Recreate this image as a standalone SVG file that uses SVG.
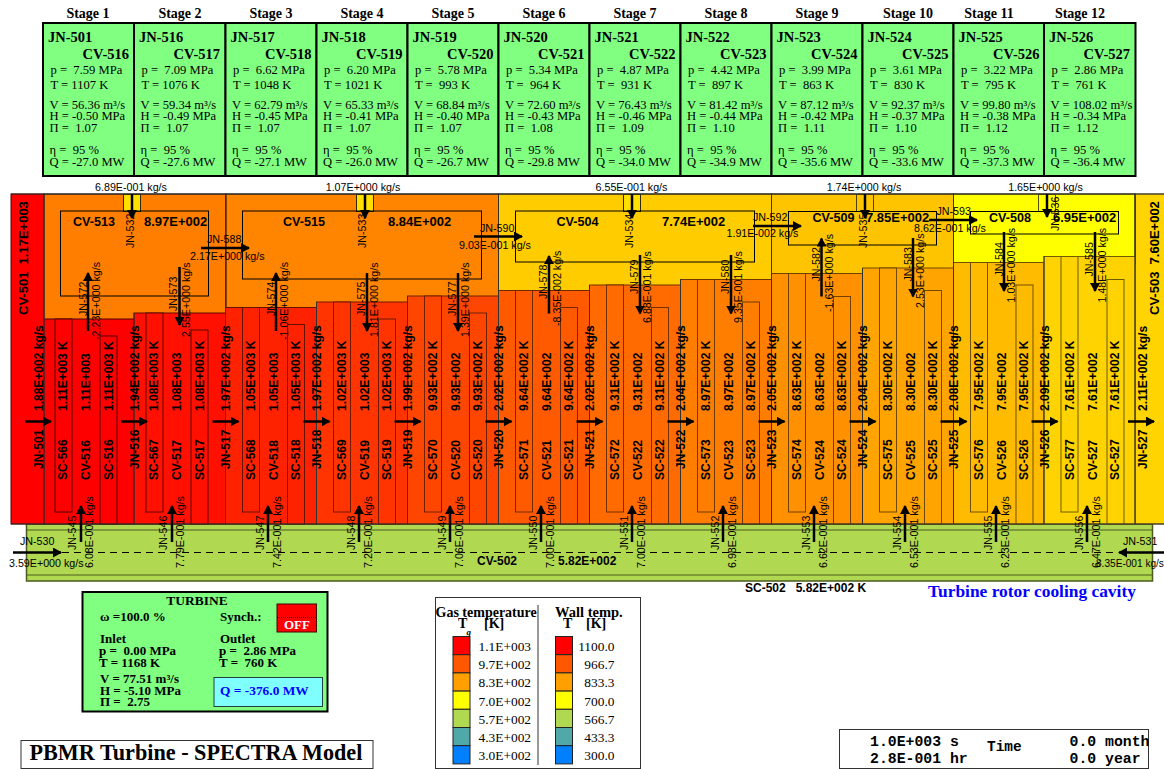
<svg xmlns="http://www.w3.org/2000/svg" width="1164" height="769" viewBox="0 0 1164 769">
<style>
text{white-space:pre;fill:#000;stroke:none}
.b{font:bold 12px "Liberation Sans",Arial,sans-serif}
.cv{font:bold 13px "Liberation Sans",Arial,sans-serif}
.r{font:10.7px "Liberation Sans",Arial,sans-serif}
.h{font:bold 14px "Liberation Serif","Times New Roman",serif}
.t{font:bold 14.5px "Liberation Serif","Times New Roman",serif}
.e{text-anchor:end}
.m{text-anchor:middle}
.s{font:12.6px "Liberation Serif","Times New Roman",serif}
.ls{font:13.4px "Liberation Serif","Times New Roman",serif}
.tb{font:bold 13px "Liberation Serif","Times New Roman",serif}
.lg{font:bold 14px "Liberation Serif","Times New Roman",serif}
.mono{font:bold 14.8px "Liberation Mono","Courier New",monospace}
.box{fill:#80ff80;stroke:#000;stroke-width:2}
.gl{stroke:#000;stroke-width:1;fill:none}
.a{stroke:#000;stroke-width:2.5;fill:none;marker-end:url(#ah)}
.sw{stroke:#222;stroke-width:1}
</style>
<defs><marker id="ah" markerUnits="userSpaceOnUse" markerWidth="12" markerHeight="12" refX="8" refY="5" orient="auto"><path d="M0,0L9,5L0,10z" fill="#000"/></marker></defs>
<rect width="1164" height="769" fill="#fff"/>

<g id="stage-headers" class="h">
<text class="h m" x="88" y="18">Stage 1</text><text class="h m" x="180" y="18">Stage 2</text><text class="h m" x="271" y="18">Stage 3</text><text class="h m" x="362" y="18">Stage 4</text><text class="h m" x="453" y="18">Stage 5</text><text class="h m" x="544" y="18">Stage 6</text><text class="h m" x="635" y="18">Stage 7</text><text class="h m" x="726" y="18">Stage 8</text><text class="h m" x="817" y="18">Stage 9</text><text class="h m" x="908" y="18">Stage 10</text><text class="h m" x="989" y="18">Stage 11</text><text class="h m" x="1080" y="18">Stage 12</text>
</g>

<g id="box-1" transform="translate(43 0)"><rect class="box" x="0" y="23" width="91" height="153"/><text class="t" x="5" y="42">JN-501</text><text class="t e" x="86" y="59">CV-516</text><text class="s" x="7.5" y="73.5">p =  7.59 MPa</text><text class="s" x="7.5" y="88.5">T = 1107 K</text><text class="s" x="6.5" y="109">V = 56.36 m³/s</text><text class="s" x="6.5" y="120">H = -0.50 MPa</text><text class="s" x="6.5" y="131.5">Π =  1.07</text><text class="s" x="6.5" y="154">η =  95 %</text><text class="s" x="6.5" y="165.5">Q = -27.0 MW</text></g>
<g id="box-2" transform="translate(134 0)"><rect class="box" x="0" y="23" width="91.5" height="153"/><text class="t" x="5" y="42">JN-516</text><text class="t e" x="86" y="59">CV-517</text><text class="s" x="7.5" y="73.5">p =  7.09 MPa</text><text class="s" x="7.5" y="88.5">T = 1076 K</text><text class="s" x="6.5" y="109">V = 59.34 m³/s</text><text class="s" x="6.5" y="120">H = -0.49 MPa</text><text class="s" x="6.5" y="131.5">Π =  1.07</text><text class="s" x="6.5" y="154">η =  95 %</text><text class="s" x="6.5" y="165.5">Q = -27.6 MW</text></g>
<g id="box-3" transform="translate(225.5 0)"><rect class="box" x="0" y="23" width="91" height="153"/><text class="t" x="5" y="42">JN-517</text><text class="t e" x="86" y="59">CV-518</text><text class="s" x="7.5" y="73.5">p =  6.62 MPa</text><text class="s" x="7.5" y="88.5">T = 1048 K</text><text class="s" x="6.5" y="109">V = 62.79 m³/s</text><text class="s" x="6.5" y="120">H = -0.45 MPa</text><text class="s" x="6.5" y="131.5">Π =  1.07</text><text class="s" x="6.5" y="154">η =  95 %</text><text class="s" x="6.5" y="165.5">Q = -27.1 MW</text></g>
<g id="box-4" transform="translate(316.5 0)"><rect class="box" x="0" y="23" width="91" height="153"/><text class="t" x="5" y="42">JN-518</text><text class="t e" x="86" y="59">CV-519</text><text class="s" x="7.5" y="73.5">p =  6.20 MPa</text><text class="s" x="7.5" y="88.5">T = 1021 K</text><text class="s" x="6.5" y="109">V = 65.33 m³/s</text><text class="s" x="6.5" y="120">H = -0.41 MPa</text><text class="s" x="6.5" y="131.5">Π =  1.07</text><text class="s" x="6.5" y="154">η =  95 %</text><text class="s" x="6.5" y="165.5">Q = -26.0 MW</text></g>
<g id="box-5" transform="translate(407.5 0)"><rect class="box" x="0" y="23" width="91" height="153"/><text class="t" x="5" y="42">JN-519</text><text class="t e" x="86" y="59">CV-520</text><text class="s" x="7.5" y="73.5">p =  5.78 MPa</text><text class="s" x="7.5" y="88.5">T =  993 K</text><text class="s" x="6.5" y="109">V = 68.84 m³/s</text><text class="s" x="6.5" y="120">H = -0.40 MPa</text><text class="s" x="6.5" y="131.5">Π =  1.07</text><text class="s" x="6.5" y="154">η =  95 %</text><text class="s" x="6.5" y="165.5">Q = -26.7 MW</text></g>
<g id="box-6" transform="translate(498.5 0)"><rect class="box" x="0" y="23" width="91" height="153"/><text class="t" x="5" y="42">JN-520</text><text class="t e" x="86" y="59">CV-521</text><text class="s" x="7.5" y="73.5">p =  5.34 MPa</text><text class="s" x="7.5" y="88.5">T =  964 K</text><text class="s" x="6.5" y="109">V = 72.60 m³/s</text><text class="s" x="6.5" y="120">H = -0.43 MPa</text><text class="s" x="6.5" y="131.5">Π =  1.08</text><text class="s" x="6.5" y="154">η =  95 %</text><text class="s" x="6.5" y="165.5">Q = -29.8 MW</text></g>
<g id="box-7" transform="translate(589.5 0)"><rect class="box" x="0" y="23" width="91" height="153"/><text class="t" x="5" y="42">JN-521</text><text class="t e" x="86" y="59">CV-522</text><text class="s" x="7.5" y="73.5">p =  4.87 MPa</text><text class="s" x="7.5" y="88.5">T =  931 K</text><text class="s" x="6.5" y="109">V = 76.43 m³/s</text><text class="s" x="6.5" y="120">H = -0.46 MPa</text><text class="s" x="6.5" y="131.5">Π =  1.09</text><text class="s" x="6.5" y="154">η =  95 %</text><text class="s" x="6.5" y="165.5">Q = -34.0 MW</text></g>
<g id="box-8" transform="translate(680.5 0)"><rect class="box" x="0" y="23" width="91" height="153"/><text class="t" x="5" y="42">JN-522</text><text class="t e" x="86" y="59">CV-523</text><text class="s" x="7.5" y="73.5">p =  4.42 MPa</text><text class="s" x="7.5" y="88.5">T =  897 K</text><text class="s" x="6.5" y="109">V = 81.42 m³/s</text><text class="s" x="6.5" y="120">H = -0.44 MPa</text><text class="s" x="6.5" y="131.5">Π =  1.10</text><text class="s" x="6.5" y="154">η =  95 %</text><text class="s" x="6.5" y="165.5">Q = -34.9 MW</text></g>
<g id="box-9" transform="translate(771.5 0)"><rect class="box" x="0" y="23" width="91" height="153"/><text class="t" x="5" y="42">JN-523</text><text class="t e" x="86" y="59">CV-524</text><text class="s" x="7.5" y="73.5">p =  3.99 MPa</text><text class="s" x="7.5" y="88.5">T =  863 K</text><text class="s" x="6.5" y="109">V = 87.12 m³/s</text><text class="s" x="6.5" y="120">H = -0.42 MPa</text><text class="s" x="6.5" y="131.5">Π =  1.11</text><text class="s" x="6.5" y="154">η =  95 %</text><text class="s" x="6.5" y="165.5">Q = -35.6 MW</text></g>
<g id="box-10" transform="translate(862.5 0)"><rect class="box" x="0" y="23" width="91" height="153"/><text class="t" x="5" y="42">JN-524</text><text class="t e" x="86" y="59">CV-525</text><text class="s" x="7.5" y="73.5">p =  3.61 MPa</text><text class="s" x="7.5" y="88.5">T =  830 K</text><text class="s" x="6.5" y="109">V = 92.37 m³/s</text><text class="s" x="6.5" y="120">H = -0.37 MPa</text><text class="s" x="6.5" y="131.5">Π =  1.10</text><text class="s" x="6.5" y="154">η =  95 %</text><text class="s" x="6.5" y="165.5">Q = -33.6 MW</text></g>
<g id="box-11" transform="translate(953.5 0)"><rect class="box" x="0" y="23" width="90.5" height="153"/><text class="t" x="5" y="42">JN-525</text><text class="t e" x="86" y="59">CV-526</text><text class="s" x="7.5" y="73.5">p =  3.22 MPa</text><text class="s" x="7.5" y="88.5">T =  795 K</text><text class="s" x="6.5" y="109">V = 99.80 m³/s</text><text class="s" x="6.5" y="120">H = -0.38 MPa</text><text class="s" x="6.5" y="131.5">Π =  1.12</text><text class="s" x="6.5" y="154">η =  95 %</text><text class="s" x="6.5" y="165.5">Q = -37.3 MW</text></g>
<g id="box-12" transform="translate(1044 0)"><rect class="box" x="0" y="23" width="91.5" height="153"/><text class="t" x="5" y="42">JN-526</text><text class="t e" x="86" y="59">CV-527</text><text class="s" x="7.5" y="73.5">p =  2.86 MPa</text><text class="s" x="7.5" y="88.5">T =  761 K</text><text class="s" x="6.5" y="109">V = 108.02 m³/s</text><text class="s" x="6.5" y="120">H = -0.34 MPa</text><text class="s" x="6.5" y="131.5">Π =  1.12</text><text class="s" x="6.5" y="154">η =  95 %</text><text class="s" x="6.5" y="165.5">Q = -36.4 MW</text></g>

<g id="cv-502"><rect x="26.5" y="524" width="1126" height="57" fill="#b0d850" stroke="#4a5a20" stroke-width="1.5"/><path d="M26.5 530H1152.5M26.5 575H1152.5" stroke="#4a5a20" fill="none"/><text class="b" x="477" y="565">CV-502</text><text class="b" x="558" y="565">5.82E+002</text></g>
<g id="sc-502"><text class="b" x="745" y="592">SC-502   5.82E+002 K</text></g>
<text x="928" y="597" font-family="Liberation Serif,serif" font-weight="bold" font-size="17.4" style="fill:#0000ff">Turbine rotor cooling cavity</text>

<g id="cv-501"><rect x="11" y="194" width="33" height="330" fill="#ff0000" stroke="#500000"/><text class="cv" transform="translate(27.5 315) rotate(-90)">CV-501  1.17E+003</text></g>
<g id="cv-503"><rect x="1135" y="194" width="30" height="330" fill="#ffd400" stroke="#6a5800"/><text class="cv" transform="translate(1158.5 315) rotate(-90)">CV-503  7.60E+002</text></g>

<g id="cv-513"><rect x="44" y="194" width="182" height="130" fill="#ff7e00" stroke="#000"/><rect x="123.5" y="194.5" width="17" height="17" fill="#ffe000" stroke="#302800"/><rect class="gl" x="60.5" y="211" width="148" height="85"/><text class="b" x="73" y="226" style="font-size:12.6px">CV-513</text><text class="cv" x="144" y="226">8.97E+002</text></g>
<g id="cv-515"><rect x="226" y="194" width="272.5" height="120" fill="#ff8500" stroke="#000"/><rect x="356.5" y="194.5" width="17" height="17" fill="#ffe000" stroke="#302800"/><rect class="gl" x="242.5" y="211" width="239" height="68"/><text class="b" x="283" y="226" style="font-size:12.6px">CV-515</text><text class="cv" x="388" y="226">8.84E+002</text></g>
<g id="cv-504"><rect x="498.5" y="194" width="273" height="100" fill="#ffcc00" stroke="#000"/><rect x="623.5" y="194.5" width="17" height="17" fill="#ffe000" stroke="#302800"/><rect class="gl" x="515.5" y="211" width="239" height="51"/><text class="b" x="556.5" y="226" style="font-size:12.6px">CV-504</text><text class="cv" x="662" y="226">7.74E+002</text></g>
<g id="cv-509"><rect x="771.5" y="194" width="182" height="85" fill="#ffc400" stroke="#000"/><rect x="856.5" y="194.5" width="17" height="17" fill="#ffc400" stroke="#504000"/><rect class="gl" x="788.5" y="211.5" width="148" height="33.5"/><text class="b" x="812.5" y="222" style="font-size:12.6px">CV-509</text><text class="cv" x="866" y="222">7.85E+002</text></g>
<g id="cv-508"><rect x="953.5" y="194" width="181.5" height="70" fill="#ffff00" stroke="#000"/><rect x="1038.5" y="194.5" width="17" height="17" fill="#ffff00" stroke="#505000"/><rect class="gl" x="970.5" y="211.5" width="148" height="22.5"/><text class="b" x="989" y="222" style="font-size:12.6px">CV-508</text><text class="cv" x="1053" y="222">6.95E+002</text></g>

<g id="stage-1" fill="#ff0000" stroke="#500000"><rect x="44" y="319" width="90" height="205"/><rect x="55" y="319" width="17" height="193"/><rect x="100" y="336" width="17" height="188"/><text class="b" transform="translate(66.5 480) rotate(-90)">SC-566</text><text class="b" transform="translate(90 480) rotate(-90)">CV-516</text><text class="b" transform="translate(112.5 480) rotate(-90)">SC-516</text><text class="b" transform="translate(66.5 411) rotate(-90)">1.11E+003 K</text><text class="b" transform="translate(90 411) rotate(-90)">1.11E+003</text><text class="b" transform="translate(112.5 411) rotate(-90)">1.11E+003 K</text></g>
<g id="stage-2" fill="#ff1000" stroke="#600800"><rect x="134" y="313" width="91.5" height="211"/><rect x="146" y="313" width="17" height="199"/><rect x="191" y="330" width="17" height="194"/><text class="b" transform="translate(158 480) rotate(-90)">SC-567</text><text class="b" transform="translate(181 480) rotate(-90)">CV-517</text><text class="b" transform="translate(203.5 480) rotate(-90)">SC-517</text><text class="b" transform="translate(158 411) rotate(-90)">1.08E+003 K</text><text class="b" transform="translate(181 411) rotate(-90)">1.08E+003</text><text class="b" transform="translate(203.5 411) rotate(-90)">1.08E+003 K</text></g>
<g id="stage-3" fill="#ff2200" stroke="#681000"><rect x="225.5" y="307.5" width="91" height="216.5"/><rect x="242.5" y="307.5" width="17" height="204.5"/><rect x="287.5" y="324.5" width="17" height="199.5"/><text class="b" transform="translate(255 480) rotate(-90)">SC-568</text><text class="b" transform="translate(278 480) rotate(-90)">CV-518</text><text class="b" transform="translate(300 480) rotate(-90)">SC-518</text><text class="b" transform="translate(255 411) rotate(-90)">1.05E+003 K</text><text class="b" transform="translate(278 411) rotate(-90)">1.05E+003</text><text class="b" transform="translate(300 411) rotate(-90)">1.05E+003 K</text></g>
<g id="stage-4" fill="#ff3400" stroke="#701800"><rect x="316.5" y="302" width="91" height="222"/><rect x="333.5" y="302" width="17" height="210"/><rect x="378.5" y="319" width="17" height="205"/><text class="b" transform="translate(346 480) rotate(-90)">SC-569</text><text class="b" transform="translate(369 480) rotate(-90)">CV-519</text><text class="b" transform="translate(391 480) rotate(-90)">SC-519</text><text class="b" transform="translate(346 411) rotate(-90)">1.02E+003 K</text><text class="b" transform="translate(369 411) rotate(-90)">1.02E+003</text><text class="b" transform="translate(391 411) rotate(-90)">1.02E+003 K</text></g>
<g id="stage-5" fill="#ff4600" stroke="#702000"><rect x="407.5" y="296" width="91" height="228"/><rect x="424.5" y="296" width="17" height="216"/><rect x="469.5" y="313" width="17" height="211"/><text class="b" transform="translate(437 480) rotate(-90)">SC-570</text><text class="b" transform="translate(460 480) rotate(-90)">CV-520</text><text class="b" transform="translate(482 480) rotate(-90)">SC-520</text><text class="b" transform="translate(437 411) rotate(-90)">9.93E+002 K</text><text class="b" transform="translate(460 411) rotate(-90)">9.93E+002</text><text class="b" transform="translate(482 411) rotate(-90)">9.93E+002 K</text></g>
<g id="stage-6" fill="#ff5a00" stroke="#702800"><rect x="498.5" y="290.5" width="91" height="233.5"/><rect x="515.5" y="290.5" width="17" height="221.5"/><rect x="560.5" y="307.5" width="17" height="216.5"/><text class="b" transform="translate(528 480) rotate(-90)">SC-571</text><text class="b" transform="translate(551 480) rotate(-90)">CV-521</text><text class="b" transform="translate(573 480) rotate(-90)">SC-521</text><text class="b" transform="translate(528 411) rotate(-90)">9.64E+002 K</text><text class="b" transform="translate(551 411) rotate(-90)">9.64E+002</text><text class="b" transform="translate(573 411) rotate(-90)">9.64E+002 K</text></g>
<g id="stage-7" fill="#ff6b00" stroke="#703000"><rect x="589.5" y="285" width="91" height="239"/><rect x="606.5" y="285" width="17" height="227"/><rect x="651.5" y="307.5" width="17" height="216.5"/><text class="b" transform="translate(619 480) rotate(-90)">SC-572</text><text class="b" transform="translate(642 480) rotate(-90)">CV-522</text><text class="b" transform="translate(664 480) rotate(-90)">SC-522</text><text class="b" transform="translate(619 411) rotate(-90)">9.31E+002 K</text><text class="b" transform="translate(642 411) rotate(-90)">9.31E+002</text><text class="b" transform="translate(664 411) rotate(-90)">9.31E+002 K</text></g>
<g id="stage-8" fill="#ff7e00" stroke="#703800"><rect x="680.5" y="279.5" width="91" height="244.5"/><rect x="697.5" y="279.5" width="17" height="232.5"/><rect x="742.5" y="302" width="17" height="222"/><text class="b" transform="translate(710 480) rotate(-90)">SC-573</text><text class="b" transform="translate(733 480) rotate(-90)">CV-523</text><text class="b" transform="translate(755 480) rotate(-90)">SC-523</text><text class="b" transform="translate(710 411) rotate(-90)">8.97E+002 K</text><text class="b" transform="translate(733 411) rotate(-90)">8.97E+002</text><text class="b" transform="translate(755 411) rotate(-90)">8.97E+002 K</text></g>
<g id="stage-9" fill="#ff9000" stroke="#704000"><rect x="771.5" y="273.5" width="91" height="250.5"/><rect x="788.5" y="273.5" width="17" height="238.5"/><rect x="833.5" y="296.5" width="17" height="227.5"/><text class="b" transform="translate(801 480) rotate(-90)">SC-574</text><text class="b" transform="translate(824 480) rotate(-90)">CV-524</text><text class="b" transform="translate(846 480) rotate(-90)">SC-524</text><text class="b" transform="translate(801 411) rotate(-90)">8.63E+002 K</text><text class="b" transform="translate(824 411) rotate(-90)">8.63E+002</text><text class="b" transform="translate(846 411) rotate(-90)">8.63E+002 K</text></g>
<g id="stage-10" fill="#ffa400" stroke="#704800"><rect x="862.5" y="268" width="91" height="256"/><rect x="879.5" y="268" width="17" height="244"/><rect x="924.5" y="290.5" width="17" height="233.5"/><text class="b" transform="translate(892 480) rotate(-90)">SC-575</text><text class="b" transform="translate(915 480) rotate(-90)">CV-525</text><text class="b" transform="translate(937 480) rotate(-90)">SC-525</text><text class="b" transform="translate(892 411) rotate(-90)">8.30E+002 K</text><text class="b" transform="translate(915 411) rotate(-90)">8.30E+002</text><text class="b" transform="translate(937 411) rotate(-90)">8.30E+002 K</text></g>
<g id="stage-11" fill="#ffbb00" stroke="#705000"><rect x="953.5" y="262.5" width="90.5" height="261.5"/><rect x="970.5" y="262.5" width="17" height="249.5"/><rect x="1016" y="285" width="17" height="239"/><text class="b" transform="translate(983 480) rotate(-90)">SC-576</text><text class="b" transform="translate(1006 480) rotate(-90)">CV-526</text><text class="b" transform="translate(1028 480) rotate(-90)">SC-526</text><text class="b" transform="translate(983 411) rotate(-90)">7.95E+002 K</text><text class="b" transform="translate(1006 411) rotate(-90)">7.95E+002</text><text class="b" transform="translate(1028 411) rotate(-90)">7.95E+002 K</text></g>
<g id="stage-12" fill="#ffd300" stroke="#705c00"><rect x="1044" y="256.5" width="91" height="267.5"/><rect x="1061" y="256.5" width="17" height="255.5"/><rect x="1107" y="279.5" width="17" height="244.5"/><text class="b" transform="translate(1074 480) rotate(-90)">SC-577</text><text class="b" transform="translate(1097 480) rotate(-90)">CV-527</text><text class="b" transform="translate(1119 480) rotate(-90)">SC-527</text><text class="b" transform="translate(1074 411) rotate(-90)">7.61E+002 K</text><text class="b" transform="translate(1097 411) rotate(-90)">7.61E+002</text><text class="b" transform="translate(1119 411) rotate(-90)">7.61E+002 K</text></g>
<path id="stage-dividers" d="M134 313V524M225.5 194V524M316.5 302V524M407.5 296V524M498.5 194V524M589.5 285V524M680.5 279V524M771.5 194V524M862.5 268V524M953.5 194V524M1044 256V524M1135 194V524M44 194V524M11 524H1164M11 194H1164" stroke="#333" fill="none"/>

<g id="connectors">
<line class="a" x1="25" y1="421.5" x2="51" y2="421.5"/><line class="a" x1="121" y1="421.5" x2="147" y2="421.5"/><line class="a" x1="212.5" y1="421.5" x2="238.5" y2="421.5"/><line class="a" x1="303.5" y1="421.5" x2="329.5" y2="421.5"/><line class="a" x1="394.5" y1="421.5" x2="420.5" y2="421.5"/><line class="a" x1="485.5" y1="421.5" x2="511.5" y2="421.5"/><line class="a" x1="576.5" y1="421.5" x2="602.5" y2="421.5"/><line class="a" x1="667.5" y1="421.5" x2="693.5" y2="421.5"/><line class="a" x1="758.5" y1="421.5" x2="784.5" y2="421.5"/><line class="a" x1="849.5" y1="421.5" x2="875.5" y2="421.5"/><line class="a" x1="940.5" y1="421.5" x2="966.5" y2="421.5"/><line class="a" x1="1031.5" y1="421.5" x2="1057.5" y2="421.5"/><line class="a" x1="1128" y1="421.5" x2="1154" y2="421.5"/>
<g class="b"><text class="b" transform="translate(42.5 469) rotate(-90)">JN-501</text><text class="b" transform="translate(42.5 411) rotate(-90)">1.88E+002 kg/s</text><text class="b" transform="translate(138.5 469) rotate(-90)">JN-516</text><text class="b" transform="translate(138.5 411) rotate(-90)">1.94E+002 kg/s</text><text class="b" transform="translate(230 469) rotate(-90)">JN-517</text><text class="b" transform="translate(230 411) rotate(-90)">1.97E+002 kg/s</text><text class="b" transform="translate(321 469) rotate(-90)">JN-518</text><text class="b" transform="translate(321 411) rotate(-90)">1.97E+002 kg/s</text><text class="b" transform="translate(412 469) rotate(-90)">JN-519</text><text class="b" transform="translate(412 411) rotate(-90)">1.99E+002 kg/s</text><text class="b" transform="translate(503 469) rotate(-90)">JN-520</text><text class="b" transform="translate(503 411) rotate(-90)">2.02E+002 kg/s</text><text class="b" transform="translate(594 469) rotate(-90)">JN-521</text><text class="b" transform="translate(594 411) rotate(-90)">2.02E+002 kg/s</text><text class="b" transform="translate(685 469) rotate(-90)">JN-522</text><text class="b" transform="translate(685 411) rotate(-90)">2.04E+002 kg/s</text><text class="b" transform="translate(776 469) rotate(-90)">JN-523</text><text class="b" transform="translate(776 411) rotate(-90)">2.05E+002 kg/s</text><text class="b" transform="translate(867 469) rotate(-90)">JN-524</text><text class="b" transform="translate(867 411) rotate(-90)">2.04E+002 kg/s</text><text class="b" transform="translate(958 469) rotate(-90)">JN-525</text><text class="b" transform="translate(958 411) rotate(-90)">2.08E+002 kg/s</text><text class="b" transform="translate(1048.5 469) rotate(-90)">JN-526</text><text class="b" transform="translate(1048.5 411) rotate(-90)">2.09E+002 kg/s</text><text class="b" transform="translate(1147 469) rotate(-90)">JN-527</text><text class="b" transform="translate(1147 411) rotate(-90)">2.11E+002 kg/s</text></g>

<line class="a" x1="132" y1="194" x2="132" y2="218"/><text class="r m" x="131" y="191">6.89E-001 kg/s</text><text class="r" transform="translate(134 248) rotate(-90)">JN-532</text>
<line class="a" x1="365" y1="194" x2="365" y2="218"/><text class="r m" x="363" y="191">1.07E+000 kg/s</text><text class="r" transform="translate(365.5 248) rotate(-90)">JN-533</text>
<line class="a" x1="632" y1="194" x2="632" y2="218"/><text class="r m" x="631.5" y="191">6.55E-001 kg/s</text><text class="r" transform="translate(633 248) rotate(-90)">JN-534</text>
<line class="a" x1="865" y1="194" x2="865" y2="218"/><text class="r m" x="864" y="191">1.74E+000 kg/s</text><text class="r" transform="translate(867 248) rotate(-90)">JN-535</text>
<line class="a" x1="1047" y1="194" x2="1047" y2="217"/><text class="r m" x="1045.5" y="191">1.65E+000 kg/s</text><text class="r" transform="translate(1059 231) rotate(-90)">JN-536</text>

<line class="a" x1="201" y1="248" x2="249" y2="248"/><text class="r" x="207" y="243">JN-588</text><text class="r" x="190" y="260">2.17E+000 kg/s</text>
<line class="a" x1="474" y1="236.5" x2="522" y2="236.5"/><text class="r" x="480" y="232">JN-590</text><text class="r" x="459" y="248.5">9.03E-001 kg/s</text>
<line class="a" x1="753" y1="226" x2="801" y2="226"/><text class="r" x="753" y="220.5">JN-592</text><text class="r" x="726.5" y="237">1.91E-002 kg/s</text>
<line class="a" x1="929" y1="220" x2="977" y2="220"/><text class="r" x="936.5" y="215">JN-593</text><text class="r" x="914" y="231.5">8.62E-001 kg/s</text>

<line class="a" x1="88" y1="331" x2="88" y2="273"/><text class="r" transform="translate(86.5 316) rotate(-90)">JN-572</text><text class="r" transform="translate(100 340) rotate(-90)">-2.23E+000 kg/s</text>
<line class="a" x1="179.5" y1="267" x2="179.5" y2="325"/><text class="r" transform="translate(177 311) rotate(-90)">JN-573</text><text class="r" transform="translate(190 337) rotate(-90)">2.55E+000 kg/s</text>
<line class="a" x1="276" y1="331" x2="276" y2="273"/><text class="r" transform="translate(275 316) rotate(-90)">JN-574</text><text class="r" transform="translate(288 340) rotate(-90)">-1.06E+000 kg/s</text>
<line class="a" x1="367" y1="273" x2="367" y2="331"/><text class="r" transform="translate(365 316) rotate(-90)">JN-575</text><text class="r" transform="translate(378 337) rotate(-90)">1.81E+000 kg/s</text>
<line class="a" x1="458" y1="273" x2="458" y2="331"/><text class="r" transform="translate(456 316) rotate(-90)">JN-577</text><text class="r" transform="translate(469 337) rotate(-90)">1.39E+000 kg/s</text>
<line class="a" x1="549" y1="313.5" x2="549" y2="256"/><text class="r" transform="translate(547 299) rotate(-90)">JN-578</text><text class="r" transform="translate(560.5 326) rotate(-90)">-8.35E-002 kg/s</text>
<line class="a" x1="640" y1="255" x2="640" y2="313.5"/><text class="r" transform="translate(638 294) rotate(-90)">JN-579</text><text class="r" transform="translate(650.5 323) rotate(-90)">6.88E-001 kg/s</text>
<line class="a" x1="731" y1="255" x2="731" y2="313.5"/><text class="r" transform="translate(729 294) rotate(-90)">JN-580</text><text class="r" transform="translate(741.5 323) rotate(-90)">9.35E-001 kg/s</text>
<line class="a" x1="821.5" y1="296.5" x2="821.5" y2="238.5"/><text class="r" transform="translate(820 281.5) rotate(-90)">JN-582</text><text class="r" transform="translate(833 312) rotate(-90)">-1.63E+000 kg/s</text>
<line class="a" x1="913" y1="238" x2="913" y2="296.5"/><text class="r" transform="translate(911.5 281.5) rotate(-90)">JN-583</text><text class="r" transform="translate(924 308) rotate(-90)">2.53E+000 kg/s</text>
<line class="a" x1="1004" y1="232" x2="1004" y2="291"/><text class="r" transform="translate(1002.5 276.5) rotate(-90)">JN-584</text><text class="r" transform="translate(1014.5 302.5) rotate(-90)">1.03E+000 kg/s</text>
<line class="a" x1="1095" y1="232" x2="1095" y2="291"/><text class="r" transform="translate(1093 276.5) rotate(-90)">JN-585</text><text class="r" transform="translate(1105.5 302.5) rotate(-90)">1.48E+000 kg/s</text>

<line x1="62" y1="552.5" x2="1118" y2="552.5" stroke="#000" stroke-width="1" stroke-dasharray="7 5"/>
<line class="a" x1="13" y1="552.5" x2="61" y2="552.5"/><text class="r" x="20" y="544.5">JN-530</text><text class="r" x="9" y="567">3.59E+000 kg/s</text>
<line class="a" x1="1164" y1="552.5" x2="1119" y2="552.5"/><text class="r" x="1123" y="544.5">JN-531</text><text class="r" x="1096" y="567" style="font-size:10.1px">8.35E-001 kg/s</text>

<line class="a" x1="81" y1="542" x2="81" y2="506"/><text class="r" transform="translate(76 550) rotate(-90)">JN-545</text><text class="r" transform="translate(93 568) rotate(-90)">6.08E-001 kg/s</text>
<line class="a" x1="172" y1="542" x2="172" y2="506"/><text class="r" transform="translate(167 550) rotate(-90)">JN-546</text><text class="r" transform="translate(184 568) rotate(-90)">7.79E-001 kg/s</text>
<line class="a" x1="268" y1="542" x2="268" y2="506"/><text class="r" transform="translate(264 550) rotate(-90)">JN-547</text><text class="r" transform="translate(281 568) rotate(-90)">7.42E-001 kg/s</text>
<line class="a" x1="359" y1="542" x2="359" y2="506"/><text class="r" transform="translate(355 550) rotate(-90)">JN-548</text><text class="r" transform="translate(372 568) rotate(-90)">7.20E-001 kg/s</text>
<line class="a" x1="450" y1="542" x2="450" y2="506"/><text class="r" transform="translate(446 550) rotate(-90)">JN-549</text><text class="r" transform="translate(463 568) rotate(-90)">7.06E-001 kg/s</text>
<line class="a" x1="541" y1="542" x2="541" y2="506"/><text class="r" transform="translate(537 550) rotate(-90)">JN-550</text><text class="r" transform="translate(554 568) rotate(-90)">7.00E-001 kg/s</text>
<line class="a" x1="632" y1="542" x2="632" y2="506"/><text class="r" transform="translate(628 550) rotate(-90)">JN-551</text><text class="r" transform="translate(645 568) rotate(-90)">7.00E-001 kg/s</text>
<line class="a" x1="723" y1="542" x2="723" y2="506"/><text class="r" transform="translate(719 550) rotate(-90)">JN-552</text><text class="r" transform="translate(736 568) rotate(-90)">6.98E-001 kg/s</text>
<line class="a" x1="814" y1="542" x2="814" y2="506"/><text class="r" transform="translate(810 550) rotate(-90)">JN-553</text><text class="r" transform="translate(827 568) rotate(-90)">6.62E-001 kg/s</text>
<line class="a" x1="905" y1="542" x2="905" y2="506"/><text class="r" transform="translate(901 550) rotate(-90)">JN-554</text><text class="r" transform="translate(918 568) rotate(-90)">6.53E-001 kg/s</text>
<line class="a" x1="996" y1="542" x2="996" y2="506"/><text class="r" transform="translate(992 550) rotate(-90)">JN-555</text><text class="r" transform="translate(1009 568) rotate(-90)">6.23E-001 kg/s</text>
<line class="a" x1="1087" y1="542" x2="1087" y2="506"/><text class="r" transform="translate(1083 550) rotate(-90)">JN-556</text><text class="r" transform="translate(1100 568) rotate(-90)">6.47E-001 kg/s</text>
</g>

<g id="turbine"><rect class="box" x="82.5" y="592" width="245" height="119.5"/><text class="tb m" x="197" y="605" style="font-size:13.5px">TURBINE</text><text class="tb" x="100" y="620.5">ω =100.0 %</text><text class="tb" x="220" y="620.5">Synch.:</text><rect x="277" y="604" width="39.5" height="28" fill="#ff0000" stroke="#400000"/><line x1="277" y1="617.5" x2="316.5" y2="617.5" stroke="#000" stroke-dasharray="1 1"/><text class="tb" x="284" y="629" style="fill:#fff">OFF</text><text class="tb" x="100" y="643">Inlet</text><text class="tb" x="220" y="643">Outlet</text><text class="tb" x="99" y="655">p =  0.00 MPa</text><text class="tb" x="99" y="666.5">T = 1168 K</text><text class="tb" x="219" y="655">p =  2.86 MPa</text><text class="tb" x="219" y="666.5">T =  760 K</text><text class="tb" x="100" y="683">V = 77.51 m³/s</text><text class="tb" x="100" y="694.5">H = -5.10 MPa</text><text class="tb" x="100" y="706">Π =  2.75</text><rect x="214" y="677.5" width="108.5" height="29" fill="#80ffff" stroke="#204040"/><text class="tb" x="220" y="695" style="fill:#0000ff;font-size:13.4px">Q = -376.0 MW</text></g>

<g id="title"><rect x="21" y="740.5" width="352" height="28" fill="#fff" stroke="#333"/><text x="29.5" y="760" font-family="Liberation Serif,serif" font-weight="bold" font-size="22.2">PBMR Turbine - SPECTRA Model</text></g>

<g id="legend"><rect x="435.5" y="597.5" width="205" height="171" fill="#fff" stroke="#333"/><line x1="538" y1="605" x2="538" y2="765" stroke="#333"/><text class="lg" x="435.5" y="617">Gas temperature</text><text class="lg" x="555" y="617" style="font-size:14.5px">Wall temp.</text><text class="lg" x="458" y="628" font-style="italic">T</text><text class="lg" x="466.5" y="635" style="font-size:9px;font-style:italic">g</text><text class="lg" x="484" y="628">[K]</text><text class="lg" x="563" y="628" font-style="italic">T</text><text class="lg" x="586" y="628">[K]</text>
<g class="sw"><rect x="453" y="636.5" width="17" height="18.2" fill="#ff0000"/><rect x="453" y="654.7" width="17" height="18.2" fill="#ff5800"/><rect x="453" y="672.9" width="17" height="18.2" fill="#ffa000"/><rect x="453" y="691.1" width="17" height="18.2" fill="#ffff00"/><rect x="453" y="709.3" width="17" height="18.2" fill="#b0d850"/><rect x="453" y="727.5" width="17" height="18.2" fill="#50a8a8"/><rect x="453" y="745.7" width="17" height="18.2" fill="#0080ff"/><rect x="555.5" y="636.5" width="17" height="18.2" fill="#ff0000"/><rect x="555.5" y="654.7" width="17" height="18.2" fill="#ff5800"/><rect x="555.5" y="672.9" width="17" height="18.2" fill="#ffa000"/><rect x="555.5" y="691.1" width="17" height="18.2" fill="#ffff00"/><rect x="555.5" y="709.3" width="17" height="18.2" fill="#b0d850"/><rect x="555.5" y="727.5" width="17" height="18.2" fill="#50a8a8"/><rect x="555.5" y="745.7" width="17" height="18.2" fill="#0080ff"/></g>
<text class="ls" x="478.5" y="651">1.1E+003</text><text class="ls" x="478.5" y="669.2">9.7E+002</text><text class="ls" x="478.5" y="687.4">8.3E+002</text><text class="ls" x="478.5" y="705.6">7.0E+002</text><text class="ls" x="478.5" y="723.8">5.7E+002</text><text class="ls" x="478.5" y="742">4.3E+002</text><text class="ls" x="478.5" y="760.2">3.0E+002</text>
<text class="ls e" x="614.5" y="651">1100.0</text><text class="ls e" x="614.5" y="669.2">966.7</text><text class="ls e" x="614.5" y="687.4">833.3</text><text class="ls e" x="614.5" y="705.6">700.0</text><text class="ls e" x="614.5" y="723.8">566.7</text><text class="ls e" x="614.5" y="742">433.3</text><text class="ls e" x="614.5" y="760.2">300.0</text></g>

<g id="time"><rect x="839.5" y="729.5" width="309" height="39" fill="#fff" stroke="#333"/><text class="mono" x="870" y="746">1.0E+003 s</text><text class="mono" x="870" y="762.5">2.8E-001 hr</text><text class="mono" x="987" y="750.5" style="font-size:14.4px">Time</text><text class="mono" x="1069.5" y="746">0.0 month</text><text class="mono" x="1069.5" y="762.5">0.0 year</text></g>
</svg>
